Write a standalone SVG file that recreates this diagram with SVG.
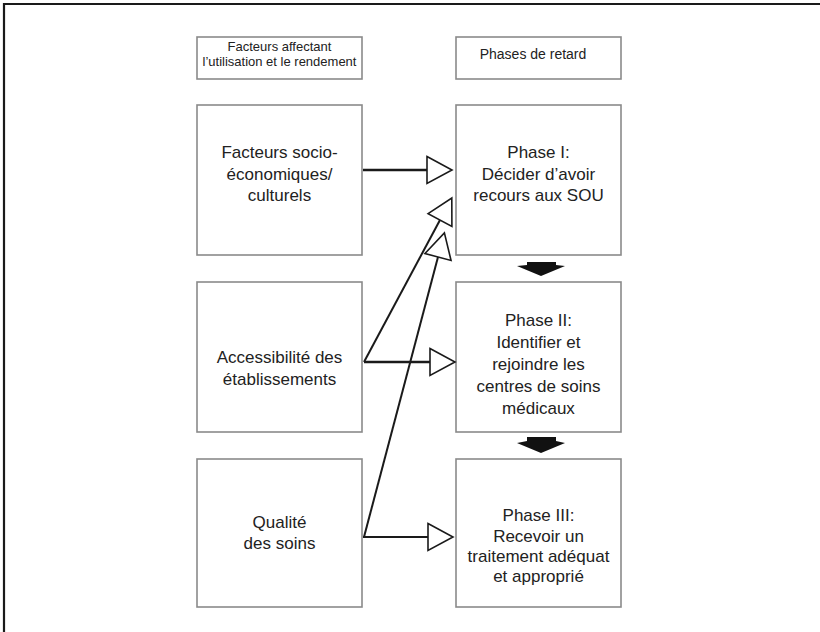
<svg xmlns="http://www.w3.org/2000/svg" width="820" height="632" viewBox="0 0 820 632">
<defs>
<style>
.box{fill:#fff;stroke:#8a8a8a;stroke-width:1.6}
.t{font-family:"Liberation Sans",Arial,sans-serif;font-size:17px;fill:#222;text-anchor:middle}
.h{font-family:"Liberation Sans",Arial,sans-serif;font-size:13px;fill:#222;text-anchor:middle}
.c{fill:none;stroke:#1a1a1a;stroke-width:2;marker-end:url(#open)}
.blk{fill:#111}
</style>
<marker id="open" markerUnits="userSpaceOnUse" markerWidth="30" markerHeight="32" refX="1" refY="14" orient="auto" overflow="visible">
<path d="M1,0.5 L26,14 L1,27.5 Z" fill="#fff" stroke="#1a1a1a" stroke-width="1.6"/>
</marker>
</defs>
<rect width="820" height="632" fill="#fff"/>
<path d="M4,632 V4 H820" fill="none" stroke="#1a1a1a" stroke-width="2.2"/>

<g id="hdr-facteurs">
<rect class="box" x="197" y="37" width="165" height="42"/>
<text class="h" x="279.5" y="51">Facteurs affectant</text>
<text class="h" x="279.5" y="66">l’utilisation et le rendement</text>
</g>
<g id="hdr-phases">
<rect class="box" x="456" y="37" width="165" height="42"/>
<text class="h" x="533" y="59" style="font-size:14px">Phases de retard</text>
</g>

<g id="socio">
<rect class="box" x="197" y="105" width="165" height="150"/>
<text class="t" x="279.5" y="158">Facteurs socio-</text>
<text class="t" x="279.5" y="180">économiques/</text>
<text class="t" x="279.5" y="201">culturels</text>
</g>
<g id="phase1">
<rect class="box" x="456" y="105" width="165" height="150"/>
<text class="t" x="538.5" y="158">Phase I:</text>
<text class="t" x="538.5" y="180">Décider d’avoir</text>
<text class="t" x="538.5" y="201">recours aux SOU</text>
</g>

<g id="access">
<rect class="box" x="197" y="282" width="165" height="150"/>
<text class="t" x="279.5" y="363">Accessibilité des</text>
<text class="t" x="279.5" y="385">établissements</text>
</g>
<g id="phase2">
<rect class="box" x="456" y="282" width="165" height="150"/>
<text class="t" x="538.5" y="326">Phase II:</text>
<text class="t" x="538.5" y="348">Identifier et</text>
<text class="t" x="538.5" y="370">rejoindre les</text>
<text class="t" x="538.5" y="392">centres de soins</text>
<text class="t" x="538.5" y="414">médicaux</text>
</g>

<g id="qualite">
<rect class="box" x="197" y="459" width="165" height="148"/>
<text class="t" x="279.5" y="528">Qualité</text>
<text class="t" x="279.5" y="549">des soins</text>
</g>
<g id="phase3">
<rect class="box" x="456" y="459" width="165" height="148"/>
<text class="t" x="538.5" y="521">Phase III:</text>
<text class="t" x="538.5" y="542">Recevoir un</text>
<text class="t" x="538.5" y="562">traitement adéquat</text>
<text class="t" x="538.5" y="582">et approprié</text>
</g>

<g id="connectors">
<path class="c" d="M363,170 H427" style="stroke-width:2.6"/>
<path class="c" d="M364,362 H430" style="stroke-width:2.4"/>
<path class="c" d="M364,362 L440,220"/>
<path class="c" d="M363,537 H428"/>
<path class="c" d="M364,537 L438,257"/>
<polygon class="blk" points="527,262 556,262 556,265 565,266 541,276 517,266 527,265"/>
<polygon class="blk" points="527,437 556,437 556,441 565,443 541,453 517,443 527,441"/>
</g>
</svg>
